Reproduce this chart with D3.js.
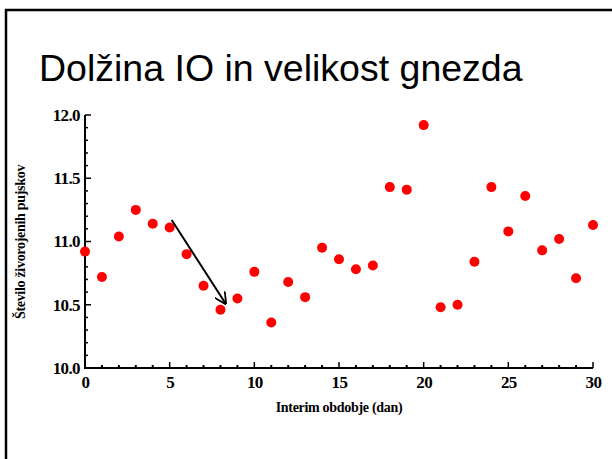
<!DOCTYPE html>
<html>
<head>
<meta charset="utf-8">
<script src="https://cdn.jsdelivr.net/npm/d3@7"></script>
<style>
  body { margin: 0; background: #fff; }
  svg { display: block; }
</style>
</head>
<body>
<div id="chart"></div>
<script>
// interval (days) and average number of live-born piglets
let days = d3.range(0, 31);
let piglets = [10.92, 10.72, 11.04, 11.25, 11.14, 11.11, 10.90, 10.65, 10.46, 10.55,
               10.76, 10.36, 10.68, 10.56, 10.95, 10.86, 10.78, 10.81, 11.43, 11.41,
               11.92, 10.48, 10.50, 10.84, 11.43, 11.08, 11.36, 10.93, 11.02, 10.71, 11.13];
let xTicks = [0, 5, 10, 15, 20, 25, 30];
let yTicks = [10.0, 10.5, 11.0, 11.5, 12.0];
let arrowFrom = [5.12, 11.17];
let arrowTo = [8.3, 10.51];

let width = 612, height = 459;
let margin = {top: 115, right: 19, bottom: 91, left: 85};

let svg = d3.select("#chart")
    .append("svg")
    .attr("width", width)
    .attr("height", height);

// slide frame (cut off on right and bottom)
svg.append("path")
    .attr("d", "M6,460 L6,10 L613,10")
    .attr("fill", "none")
    .attr("stroke", "#000")
    .attr("stroke-width", 2.5);

svg.append("text")
    .attr("x", 39)
    .attr("y", 81)
    .attr("font-family", "Liberation Sans, Arial, sans-serif")
    .attr("font-size", 37.5)
    .text("Dolžina IO in velikost gnezda");

let x = d3.scaleLinear()
    .domain([0, 30])
    .range([margin.left, width - margin.right]);
let y = d3.scaleLinear()
    .domain([10, 12])
    .range([height - margin.bottom, margin.top]);

let g = svg.append("g");

// minor ticks
g.selectAll(".xminor")
    .data(d3.range(0, 31))
    .enter().append("line")
    .attr("x1", d => x(d)).attr("x2", d => x(d))
    .attr("y1", y(10)).attr("y2", d => y(10) - (d % 5 === 0 ? 6 : 3))
    .attr("stroke", "#000").attr("stroke-width", d => d % 5 === 0 ? 1.5 : 2);
g.selectAll(".yminor")
    .data(d3.range(0, 21))
    .enter().append("line")
    .attr("y1", d => y(10 + d / 10)).attr("y2", d => y(10 + d / 10))
    .attr("x1", x(0)).attr("x2", d => x(0) + (d % 5 === 0 ? 6 : 3))
    .attr("stroke", "#000").attr("stroke-width", 1.5);

// axis lines
g.append("path")
    .attr("d", "M" + x(0) + "," + y(12) + " L" + x(0) + "," + y(10) + " L" + x(30) + "," + y(10))
    .attr("fill", "none")
    .attr("stroke", "#000")
    .attr("stroke-width", 2);

let xAxis = g.append("g")
    .attr("transform", "translate(0," + y(10) + ")")
    .call(d3.axisBottom(x).tickValues(xTicks).tickSize(0).tickPadding(8).tickFormat(d3.format("d")));
let yAxis = g.append("g")
    .attr("transform", "translate(" + x(0) + ",0)")
    .call(d3.axisLeft(y).tickValues(yTicks).tickSize(0).tickPadding(5).tickFormat(d3.format(".1f")));
[xAxis, yAxis].forEach(a => {
    a.select(".domain").remove();
    a.selectAll("text")
        .attr("font-family", "Liberation Serif, Times New Roman, serif")
        .attr("font-weight", "bold")
        .attr("font-size", 17)
        .attr("letter-spacing", -0.6)
        .attr("fill", "#000");
});

svg.append("text")
    .attr("x", 339)
    .attr("y", 412)
    .attr("text-anchor", "middle")
    .attr("font-family", "Liberation Serif, Times New Roman, serif")
    .attr("font-weight", "bold")
    .attr("font-size", 14)
    .attr("letter-spacing", -0.3)
    .text("Interim obdobje (dan)");

svg.append("text")
    .attr("transform", "translate(25,242) rotate(-90)")
    .attr("text-anchor", "middle")
    .attr("font-family", "Liberation Serif, Times New Roman, serif")
    .attr("font-weight", "bold")
    .attr("font-size", 14)
    .attr("letter-spacing", -0.3)
    .text("Število živorojenih pujskov");

// points
g.selectAll("circle")
    .data(days)
    .enter().append("circle")
    .attr("cx", d => x(d))
    .attr("cy", (d, i) => y(piglets[i]))
    .attr("r", 5)
    .attr("fill", "#ff0000");

// arrow
svg.append("defs").append("marker")
    .attr("id", "head")
    .attr("viewBox", "0 0 10 10")
    .attr("refX", 9).attr("refY", 5)
    .attr("markerWidth", 6).attr("markerHeight", 6)
    .attr("orient", "auto")
    .append("path")
    .attr("d", "M0,0 L10,5 L0,10")
    .attr("fill", "none")
    .attr("stroke", "#000")
    .attr("stroke-width", 1.5);

svg.append("line")
    .attr("x1", x(arrowFrom[0])).attr("y1", y(arrowFrom[1]))
    .attr("x2", x(arrowTo[0])).attr("y2", y(arrowTo[1]))
    .attr("stroke", "#000")
    .attr("stroke-width", 2)
    .attr("marker-end", "url(#head)");
</script>
</body>
</html>
